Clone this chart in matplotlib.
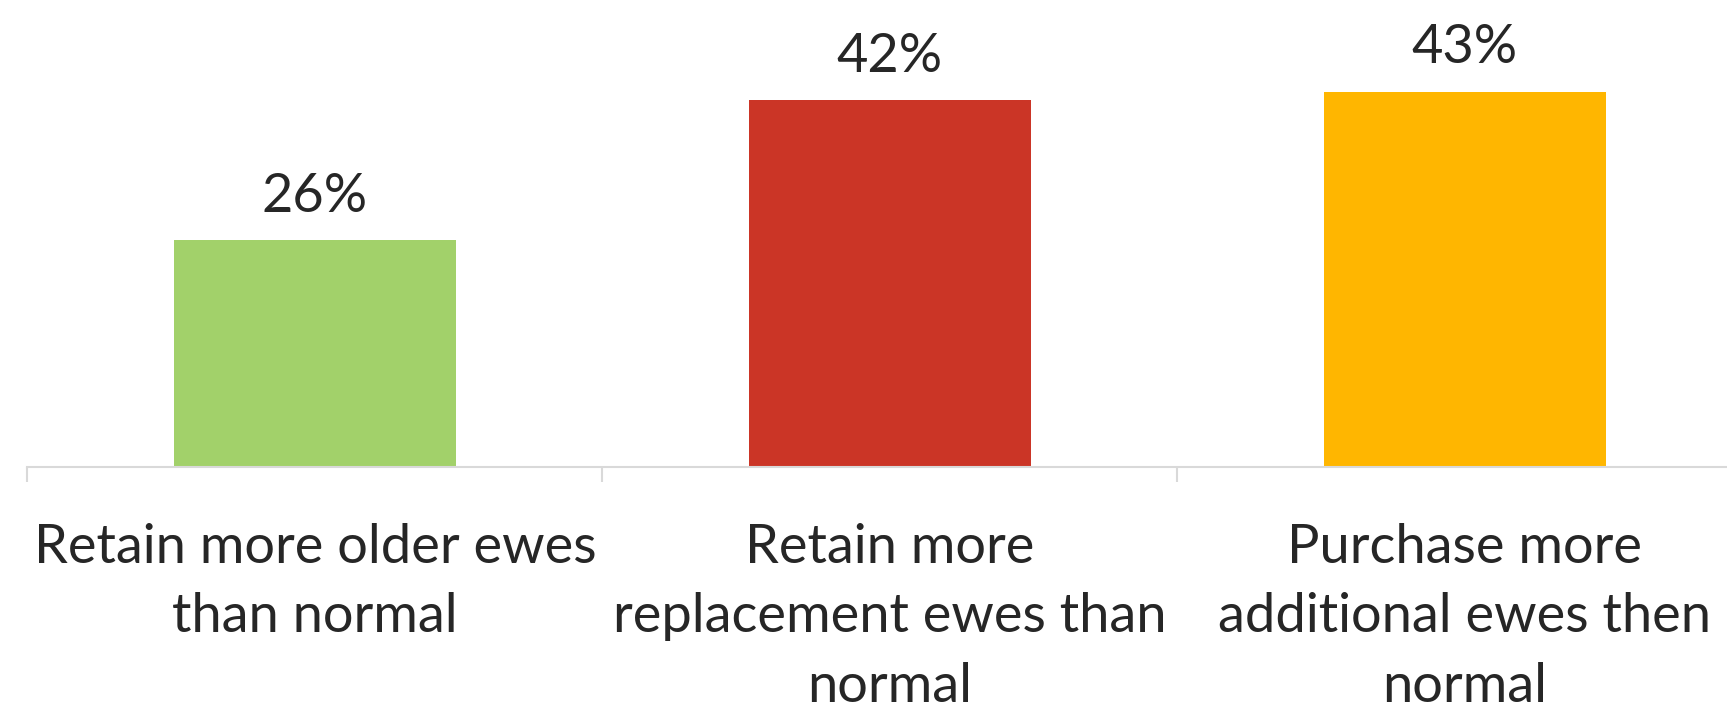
import numpy as np
import matplotlib.pyplot as plt

# Survey shares
categories = ['Retain more older ewes\nthan normal',
              'Retain more\nreplacement ewes than\nnormal',
              'Purchase more\nadditional ewes then\nnormal']
values = [0.26, 0.42, 0.43]
colors = ['#A2D16A', '#CB3526', '#FFB600']

plt.rcParams['font.family'] = ['Lato', 'DejaVu Sans']
text_color = '#262626'

fig = plt.figure(figsize=(17.27, 7.10), dpi=100)
ax = fig.add_axes([0.0159, 0.3423, 0.9988, 0.6148])

x = np.arange(len(values))
bars = ax.bar(x, values, width=0.49, color=colors)

for b, v in zip(bars, values):
    ax.annotate(f'{v:.0%}', (b.get_x() + b.get_width() / 2, v),
                xytext=(0, 14), textcoords='offset points',
                ha='center', va='bottom', fontsize=39, color=text_color)

ax.set_xlim(-0.5, 2.5)
ax.set_ylim(0, 0.5)
ax.set_yticks([])

ax.set_xticks(x, categories, fontsize=39, color=text_color, linespacing=1.52, va='top')
ax.tick_params(axis='x', which='major', length=0, pad=40)
ax.set_xticks(np.arange(-0.5, 3, 1), minor=True)
ax.tick_params(axis='x', which='minor', length=11, width=1.5, color='#D9D9D9')

for s in ['top', 'right', 'left']:
    ax.spines[s].set_visible(False)
ax.spines['bottom'].set_color('#D9D9D9')
ax.spines['bottom'].set_linewidth(1.5)

plt.savefig('out.png', dpi=100)
